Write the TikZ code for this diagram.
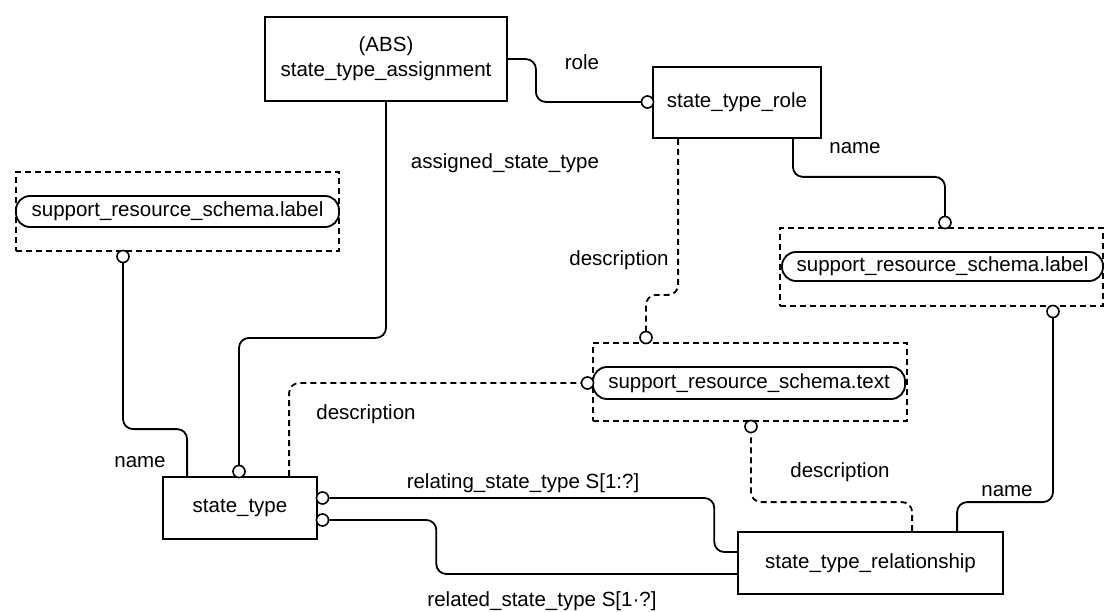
\documentclass[tikz,border=0pt]{standalone}
\usepackage{fontspec}
\setmainfont{Liberation Sans}
\usetikzlibrary{calc}
\begin{document}
\begin{tikzpicture}[x=1pt,y=-1pt,
  every node/.style={font=\fontsize{20.5}{25}\selectfont},
  ent/.style={draw,line width=1.8pt,inner sep=0pt,align=center},
  dbox/.style={draw,dash pattern=on 6pt off 4pt,line width=1.7pt,inner sep=0pt},
  rbox/.style={draw,rounded corners=14pt,line width=1.8pt,inner sep=0pt},
  oc/.style={circle,draw,fill=white,inner sep=0pt,minimum size=12pt,line width=1.6pt},
  conn/.style={line width=1.8pt,rounded corners=10pt},
  dconn/.style={conn,dash pattern=on 6pt off 4pt},
  lbl/.style={inner sep=0pt}]
\path[use as bounding box] (0,0) rectangle (1107,612);

% entities
\node[ent,minimum width=242pt,minimum height=84pt] (asg) at (386,59) {(ABS)\\state\_type\_assignment};
\node[ent,minimum width=168pt,minimum height=71pt] (role) at (737,102.5) {state\_type\_role};
\node[ent,minimum width=154pt,minimum height=62pt] (st) at (240,508) {state\_type};
\node[ent,minimum width=265pt,minimum height=62pt] (rel) at (870.5,563) {state\_type\_relationship};

% type boxes
\node[dbox,minimum width=323pt,minimum height=79pt] (lab1box) at (177.5,211.5) {};
\node[rbox,minimum width=323pt,minimum height=31pt] (lab1) at (177.5,211.5) {support\_resource\_schema.label};
\node[dbox,minimum width=323pt,minimum height=78pt] (lab2box) at (941.5,267) {};
\node[rbox,minimum width=321pt,minimum height=29pt] (lab2) at (942.5,266.5) {support\_resource\_schema.label};
\node[dbox,minimum width=314pt,minimum height=78pt] (txtbox) at (750,382) {};
\node[rbox,minimum width=312pt,minimum height=32pt] (txt) at (749,383) {support\_resource\_schema.text};

% connectors
\draw[conn] ($(asg.north east)+(0,43)$) -- ++(28,0) |- (647.5,102) coordinate (e1);
\draw[conn] ($(role.south east)+(-29,0)$) -- ++(0,38) -| (945,222.5) coordinate (e2);
\draw[conn] ($(st.north west)+(25,0)$) -- ++(0,-47) -| (123,256.5) coordinate (e3);
\draw[conn] (asg.south) -- ++(0,236) -| (239,471.5) coordinate (e8);
\draw[dconn] ($(role.south west)+(26,0)$) -- ++(0,156) -| (646,337.5) coordinate (e5);
\draw[dconn] ($(st.north west)+(127,0)$) |- (587.5,383) coordinate (e6);
\draw[dconn] ($(rel.north west)+(175,0)$) -- ++(0,-29) -| (751,426.5) coordinate (e7);
\draw[conn] ($(rel.north west)+(220,0)$) -- ++(0,-29) -| (1053,311.5) coordinate (e4);

% circles
\node[oc] (c1) at (e1) {};
\node[oc] (c2) at (e2) {};
\node[oc] (c3) at (e3) {};
\node[oc] (c4) at (e4) {};
\node[oc] (c5) at (e5) {};
\node[oc] (c6) at (e6) {};
\node[oc] (c7) at (e7) {};
\node[oc] (c8) at (e8) {};
\node[oc] (c9) at (322.5,498) {};
\node[oc] (c10) at (322.5,520) {};

\draw[conn] (c9.east) -- ++(385,0) |- ($(rel.west)+(0,-11)$);
\draw[conn] (c10.east) -- ++(107,0) |- ($(rel.west)+(0,11)$);

% labels
\node[lbl] (l1) at (582,62) {role};
\node[lbl] (l2) at (855,148) {name};
\node[lbl] (l3) at (505,163) {assigned\_state\_type};
\node[lbl] (l4) at (619,260) {description};
\node[lbl] (l5) at (140,462) {name};
\node[lbl] (l6) at (366,414) {description};
\node[lbl] (l7) at (523,483) {relating\_state\_type S[1:?]};
\node[lbl] (l8) at (542,601) {related\_state\_type S[1·?]};
\node[lbl] (l9) at (840,472) {description};
\node[lbl] (l10) at (1007,491) {name};
\end{tikzpicture}
\end{document}
